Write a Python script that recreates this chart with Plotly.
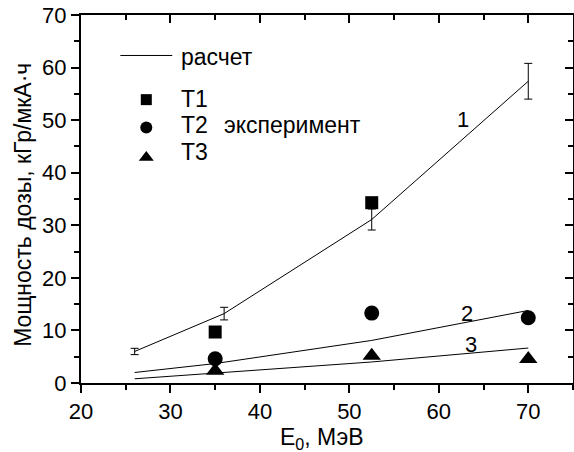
import plotly.graph_objects as go

# ---- data ----
calc_x = [26, 36, 52.5, 70]
calc1 = [6.0, 13.2, 31.1, 57.4]
calc1_err = [0.6, 1.2, 2.0, 3.4]
calc23_x = [26, 35, 52.5, 70]
calc2 = [2.0, 3.7, 8.1, 13.8]
calc3 = [0.8, 1.9, 4.0, 6.65]

t1_x = [35, 52.5]
t1 = [9.7, 34.3]
exp_x = [35, 52.5, 70]
t2 = [4.6, 13.3, 12.4]
t3 = [2.34, 5.19, 4.57]

curve_labels = ["1", "2", "3"]
curve_label_x = [62.7, 63.2, 63.6]
curve_label_y = [50.1, 13.2, 7.4]

legend_calc = "расчет"
legend_exp = ["T1", "T2", "T3"]
legend_exp_group = "эксперимент"

x_title = "E<sub>0</sub>, МэВ"
y_title = "Мощность дозы, кГр/мкА·ч"

FONT = "Liberation Sans, Arial, sans-serif"
BLACK = "black"
TXT = 23

fig = go.Figure()

line_style = dict(color=BLACK, width=1)
fig.add_trace(go.Scatter(x=calc_x, y=calc1, mode="lines", line=line_style,
                         error_y=dict(type="data", array=calc1_err, visible=True,
                                      color=BLACK, thickness=1, width=4),
                         showlegend=False))
fig.add_trace(go.Scatter(x=calc23_x, y=calc2, mode="lines", line=line_style, showlegend=False))
fig.add_trace(go.Scatter(x=calc23_x, y=calc3, mode="lines", line=line_style, showlegend=False))

fig.add_trace(go.Scatter(x=t1_x, y=t1, mode="markers",
                         marker=dict(symbol="square", size=13, color=BLACK), showlegend=False))
fig.add_trace(go.Scatter(x=exp_x, y=t2, mode="markers",
                         marker=dict(symbol="circle", size=15, color=BLACK), showlegend=False))
fig.add_trace(go.Scatter(x=exp_x, y=t3, mode="markers",
                         marker=dict(symbol="triangle-up", size=16, color=BLACK), showlegend=False))

# ---- manual legend ----
leg_line_x = [24.4, 30.2]
leg_line_y = 62.3
fig.add_trace(go.Scatter(x=leg_line_x, y=[leg_line_y, leg_line_y], mode="lines",
                         line=line_style, showlegend=False))
leg_mx = 27.3
leg_my = [53.9, 48.6, 42.9]
leg_sym = ["square", "circle", "triangle-up"]
leg_size = [11, 12, 13]
for yy, s, sz in zip(leg_my, leg_sym, leg_size):
    fig.add_trace(go.Scatter(x=[leg_mx], y=[yy], mode="markers",
                             marker=dict(symbol=s, size=sz, color=BLACK), showlegend=False))

annots = []
annots.append(dict(x=31.0, y=62.0, text=legend_calc, xanchor="left", yanchor="middle",
                   showarrow=False, font=dict(size=TXT, family=FONT, color=BLACK)))
for yy, t in zip([54.1, 49.0, 44.0], legend_exp):
    annots.append(dict(x=30.9, y=yy, text=t, xanchor="left", yanchor="middle",
                       showarrow=False, font=dict(size=TXT, family=FONT, color=BLACK)))
annots.append(dict(x=35.8, y=49.0, text=legend_exp_group, xanchor="left", yanchor="middle",
                   showarrow=False, font=dict(size=TXT, family=FONT, color=BLACK)))
for t, xx, yy in zip(curve_labels, curve_label_x, curve_label_y):
    annots.append(dict(x=xx, y=yy, text=t, xanchor="center", yanchor="middle",
                       showarrow=False, font=dict(size=22, family=FONT, color=BLACK)))
annots.append(dict(x=-0.118, y=0.484, xref="paper", yref="paper", text=y_title, textangle=-90,
                   xanchor="center", yanchor="middle", showarrow=False,
                   font=dict(size=TXT, family=FONT, color=BLACK)))
annots.append(dict(x=0.49, y=-0.152, xref="paper", yref="paper", text=x_title,
                   xanchor="center", yanchor="middle", showarrow=False,
                   font=dict(size=TXT, family=FONT, color=BLACK)))

# dummy trace for mirror axes
fig.add_trace(go.Scatter(x=[None], y=[None], xaxis="x2", yaxis="y2", showlegend=False))

axis_common = dict(showgrid=False, zeroline=False, showline=True, linecolor=BLACK, linewidth=2,
                   tickcolor=BLACK, tickwidth=1.5, ticklen=8)

fig.update_layout(
    width=574, height=452,
    margin=dict(l=81, r=1, t=15, b=69),
    paper_bgcolor="white", plot_bgcolor="white",
    font=dict(family=FONT, color=BLACK, size=22),
    showlegend=False,
    annotations=annots,
    xaxis=dict(range=[20, 75], tick0=20, dtick=10, ticks="outside",
               tickfont=dict(size=22), mirror=False,
               minor=dict(dtick=5, tick0=20, ticks="outside", ticklen=5, tickcolor=BLACK, tickwidth=1.5),
               **axis_common),
    yaxis=dict(range=[0, 70], tick0=0, dtick=10, ticks="outside",
               tickfont=dict(size=22), mirror=False,
               minor=dict(dtick=5, tick0=0, ticks="outside", ticklen=5, tickcolor=BLACK, tickwidth=1.5),
               **axis_common),
    xaxis2=dict(range=[20, 75], overlaying="x", side="top", tick0=20, dtick=10, ticks="inside",
                showticklabels=False,
                minor=dict(dtick=5, tick0=20, ticks="inside", ticklen=5, tickcolor=BLACK, tickwidth=1.5),
                **axis_common),
    yaxis2=dict(range=[0, 70], overlaying="y", side="right", tick0=0, dtick=10, ticks="inside",
                showticklabels=False,
                minor=dict(dtick=5, tick0=0, ticks="inside", ticklen=5, tickcolor=BLACK, tickwidth=1.5),
                **axis_common),
)

fig.write_html("out.html")
